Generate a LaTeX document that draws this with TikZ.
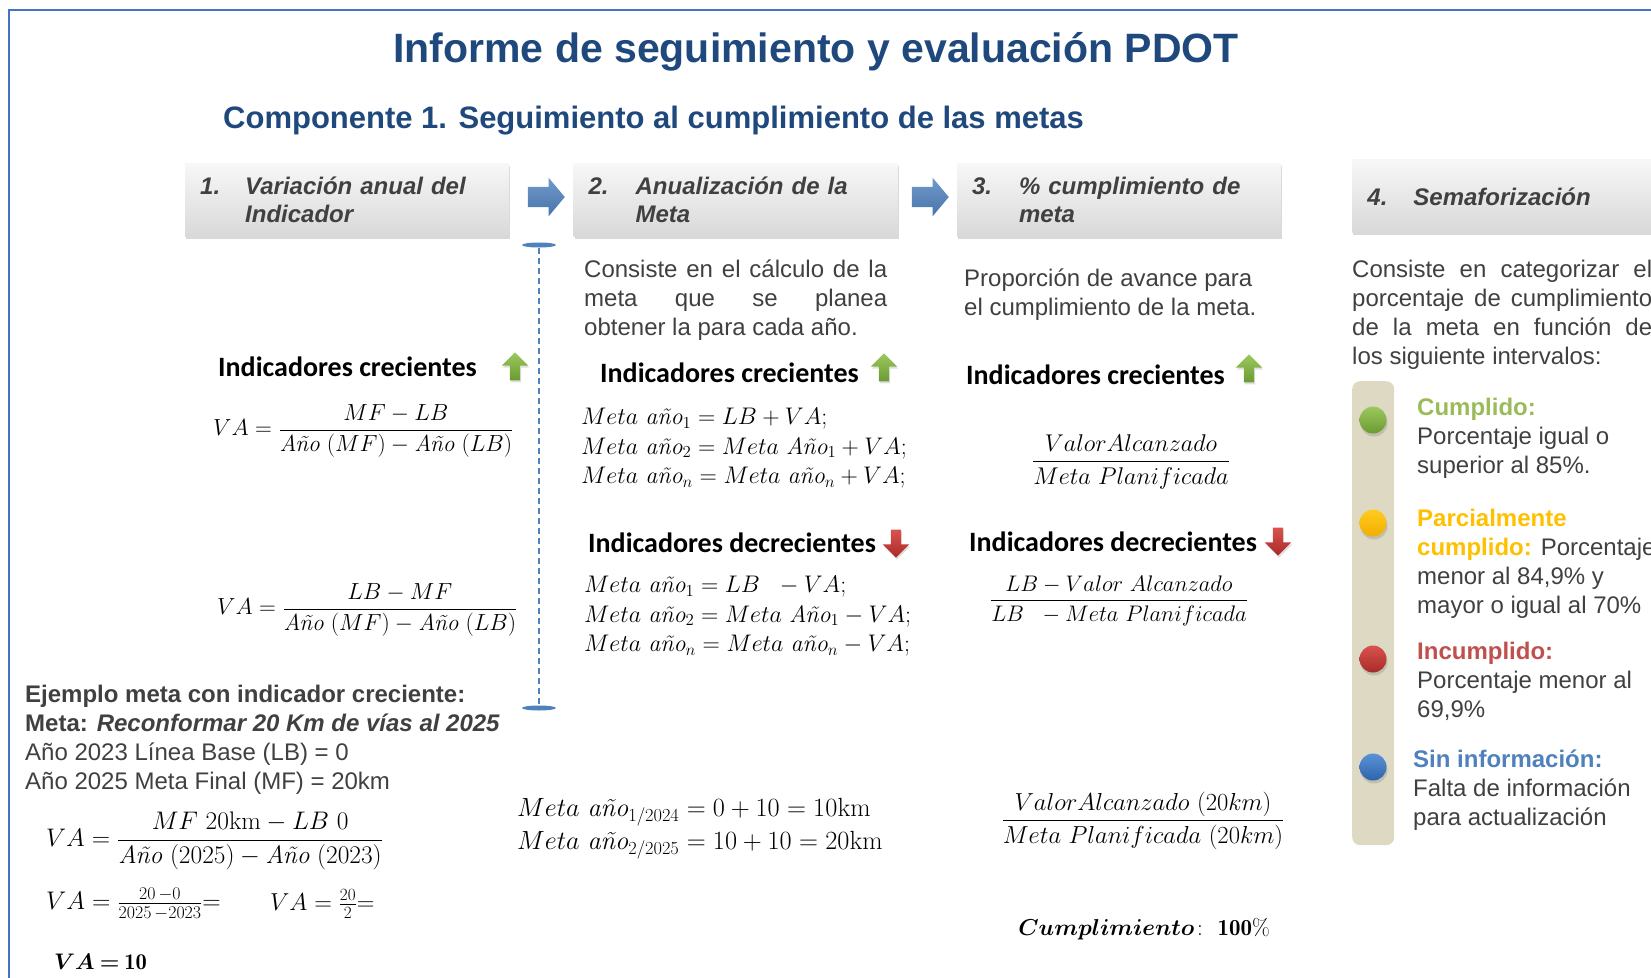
\RequirePackage{fix-cm}
\documentclass[tikz,border=0pt]{standalone}
\usepackage{amsmath,amssymb}
\usepackage{fontspec}
\setsansfont{Liberation Sans}
\newfontfamily\calib{Carlito}
\usepackage{tikz}
\usetikzlibrary{positioning,shapes.geometric,shapes.arrows,shadows}

\definecolor{titleBlue}{HTML}{1F497D}
\definecolor{frameBlue}{HTML}{4472C4}
\definecolor{textGray}{HTML}{404040}
\definecolor{arrowBlue}{HTML}{4F81BD}
\definecolor{okGreen}{HTML}{9BBB59}
\definecolor{midYellow}{HTML}{FFC000}
\definecolor{badRed}{HTML}{C0504D}
\definecolor{barTan}{HTML}{DDD9C3}
\definecolor{greenTop}{HTML}{9CC95E}
\definecolor{greenBot}{HTML}{6B9A32}
\definecolor{redTop}{HTML}{D9534F}
\definecolor{redBot}{HTML}{A82B27}
\definecolor{yellowTop}{HTML}{FFCB20}
\definecolor{yellowBot}{HTML}{F2AE00}
\definecolor{blueTop}{HTML}{5A92D8}
\definecolor{blueBot}{HTML}{2F64AA}

\newcommand{\mi}[1]{\textnormal{\itshape #1}}
\newcommand{\bodyfont}{\sffamily\fontsize{24}{29}\selectfont}
% header text: number column + wrapped title, pushed slightly down
\newcommand{\hdrtext}[4][1.5pt]{\raisebox{-#1}[\dimexpr\height+#1\relax][\dimexpr\depth-#1\relax]{\begin{tabular}{@{}p{#2}@{}p{225pt}@{}}#3 & #4\end{tabular}}}

\begin{document}
\begin{tikzpicture}[x=1pt, y=-1pt,
    hdrbox/.style={anchor=north west, minimum height=73pt, text width=294pt, inner xsep=15pt, align=left,
      top color=gray!6, bottom color=gray!30, draw=none,
      drop shadow={shadow xshift=1pt, shadow yshift=-3pt, opacity=0.25, fill=black!60},
      font=\sffamily\bfseries\itshape\fontsize{24}{28.5}\selectfont, text=textGray},
    rarrow/.style={single arrow, minimum height=37pt, inner sep=10pt, single arrow head extend=9pt,
      single arrow tip angle=100, top color=arrowBlue!80, bottom color=arrowBlue!90!black, draw=none},
    uparr/.style={single arrow, shape border rotate=90, minimum height=28pt, inner sep=5pt,
      single arrow head extend=8pt, top color=greenTop, bottom color=greenBot, draw=none,
      drop shadow={shadow xshift=1pt, shadow yshift=-2pt, opacity=0.25}},
    downarr/.style={uparr, shape border rotate=270, top color=redTop, bottom color=redBot},
    capnode/.style={ellipse, fill=arrowBlue, minimum width=34pt, minimum height=5pt, inner sep=0pt},
    vdash/.style={draw=arrowBlue, line width=1.2pt, dash pattern=on 6pt off 4pt},
    body/.style={font=\bodyfont, text=textGray, inner sep=0pt, anchor=north west, align=left},
    indlabel/.style={font=\calib\bfseries\fontsize{28}{32}\selectfont, text=black, inner sep=0pt, anchor=west},
    mathnode/.style={font=\fontsize{24}{29.5}\selectfont, text=black, inner sep=0pt},
    mathsize/.style={font=\fontsize{#1}{29.5}\selectfont},
    dot/.style={circle, minimum size=27pt, inner sep=0pt,
      drop shadow={shadow xshift=1pt, shadow yshift=-3pt, opacity=0.3}}
]
\useasboundingbox (0,0) rectangle (1651,977);
\clip (0,0) rectangle (1651,977);
% frame
\draw[frameBlue, line width=2pt] (9,1000) |- (1700,10);

% titles
\node[font=\sffamily\bfseries\fontsize{41}{48}\selectfont, text=titleBlue] (title) at (816,52) {Informe de seguimiento y evaluación PDOT};
\node[font=\sffamily\bfseries\fontsize{31}{36}\selectfont, text=titleBlue, anchor=west, inner sep=0pt] (subtitle) at (223,121) {Componente 1. Seguimiento al cumplimiento de las metas};

% header steps
\node[hdrbox] (h1) at (185,163) {\hdrtext{45pt}{1.}{Variación anual del Indicador}};
\node[hdrbox, right=64pt of h1] (h2) {\hdrtext{47pt}{2.}{Anualización de la Meta}};
\node[hdrbox, right=59pt of h2] (h3) {\hdrtext{47pt}{3.}{\% cumplimiento de meta}};
\node[hdrbox, right=71pt of h3, yshift=4pt] (h4) {\hdrtext[2.2pt]{46pt}{4.}{Semaforización}};
\node[rarrow] (a12) at (542,197) {};
\node[rarrow] (a23) at (926,197) {};

% dashed divider
\node[capnode] (capTop) at (539,245) {};
\node[capnode] (capBot) at (539,708) {};
\draw[vdash] (capTop) -- (capBot);

% column 1
\node[indlabel] (inc1) at (218,367) {Indicadores crecientes};
\node[uparr] (up1) at (515,369) {};
\node[mathnode, mathsize=23.3, anchor=west] (va1) at (213,431) {$VA = \dfrac{MF - LB}{\mi{Año}\ (MF) - \mi{Año}\ (LB)}$};
\node[mathnode, mathsize=23.3, anchor=west] (va2) at (217,610) {$VA = \dfrac{LB - MF}{\mi{Año}\ (MF) - \mi{Año}\ (LB)}$};

% column 2
\node[body, text width=303pt, align=justify] (d2) at (584,260) {Consiste en el cálculo de la\linebreak meta que se planea\linebreak obtener la para cada año.};
\node[indlabel] (inc2) at (600,373) {Indicadores crecientes};
\node[uparr] (up2) at (884,370) {};
\node[mathnode, anchor=north west, align=left] (eqinc) at (581,408) {$Meta\ \mi{año}_1 = LB + VA;$\\ $Meta\ \mi{año}_2 = Meta\ \mi{Año}_1 + VA;$\\ $Meta\ \mi{año}_n = Meta\ \mi{año}_n + VA;$};
\node[indlabel] (dec2) at (588,543) {Indicadores decrecientes};
\node[downarr] (dn2) at (896,541) {};
\node[mathnode, anchor=north west, align=left] (eqdec) at (584,576) {$Meta\ \mi{año}_1 = LB\ \ - VA;$\\ $Meta\ \mi{año}_2 = Meta\ \mi{Año}_1 - VA;$\\ $Meta\ \mi{año}_n = Meta\ \mi{año}_n - VA;$};

% column 3
\node[body] (d3) at (964,269) {Proporción de avance para\\ el cumplimiento de la meta.};
\node[indlabel] (inc3) at (966,375) {Indicadores crecientes};
\node[uparr] (up3) at (1249,371) {};
\node[mathnode, mathsize=24.2] (pc1) at (1131,462) {$\dfrac{ValorAlcanzado}{Meta\ Planificada}$};
\node[indlabel] (dec3) at (969,542) {Indicadores decrecientes};
\node[downarr] (dn3) at (1278,539) {};
\node[mathnode, mathsize=22.5] (pc2) at (1119,601) {$\dfrac{LB - Valor\ Alcanzado}{LB\ \ - Meta\ Planificada}$};

% column 4
\node[body, text width=300pt, align=justify] (d4) at (1352,260) {Consiste en categorizar el\linebreak porcentaje de cumplimiento\linebreak de la meta en función de\linebreak los siguiente intervalos:};
\node[draw=none, fill=barTan, rounded corners=8pt, minimum width=42pt, minimum height=464pt, anchor=north west] (bar) at (1352,381) {};
\node[dot, top color=greenTop, bottom color=greenBot] (dot1) at (1373,420) {};
\node[dot, top color=yellowTop, bottom color=yellowBot] (dot2) at (1373,523) {};
\node[dot, top color=redTop, bottom color=redBot] (dot3) at (1373,659) {};
\node[dot, top color=blueTop, bottom color=blueBot] (dot4) at (1373,767) {};
\node[body] (s1) at (1417,398) {\textcolor{okGreen}{\bfseries Cumplido:}\\ Porcentaje igual o\\ superior al 85\%.};
\node[body] (s2) at (1417,509) {\textcolor{midYellow}{\bfseries Parcialmente}\\ \textcolor{midYellow}{\bfseries cumplido:} Porcentaje\\ menor al 84,9\% y\\ mayor o igual al 70\%};
\node[body] (s3) at (1417,642) {\textcolor{badRed}{\bfseries Incumplido:}\\ Porcentaje menor al\\ 69,9\%};
\node[body] (s4) at (1413,750) {\textcolor{arrowBlue}{\bfseries Sin información:}\\ Falta de información\\ para actualización};

% worked example
\node[body] (ex) at (25,685) {\textbf{Ejemplo meta con indicador creciente:}\\ \textbf{Meta: \textit{Reconformar 20 Km de vías al 2025}}\\ Año 2023 Línea Base (LB) = 0\\ Año 2025 Meta Final (MF) = 20km};
\node[mathnode, mathsize=25.4, anchor=west] (va3) at (46,841) {$VA = \dfrac{MF\ 20\mathrm{km} - LB\ 0}{\mi{Año}\ (2025) - \mi{Año}\ (2023)}$};
\node[mathnode, mathsize=25.5, anchor=west] (va4) at (46,904) {$VA = \frac{20\,{-}0}{2025\,{-}2023}{=}$};
\node[mathnode, mathsize=24.5, anchor=west] (va5) at (270,904) {$VA = \frac{20}{2}{=}$};
\node[mathnode, mathsize=22.5, anchor=west] (va6) at (54,962) {$\boldsymbol{VA} \mathbin{\boldsymbol{=}} \mathbf{10}$};
\node[mathnode, mathsize=26.3, anchor=west] (ex1) at (517,812) {$Meta\ \mi{año}_{1/2024} = 0 + 10 = 10\mathrm{km}$};
\node[mathnode, mathsize=26.3, anchor=west] (ex2) at (517,845) {$Meta\ \mi{año}_{2/2025} = 10 + 10 = 20\mathrm{km}$};
\node[mathnode, mathsize=24.6] (pc3) at (1143,821) {$\dfrac{ValorAlcanzado\ (20km)}{Meta\ Planificada\ (20km)}$};
\node[mathnode, mathsize=23] (res) at (1144,929) {$\boldsymbol{Cumplimiento}\colon\ \mathbf{100\%}$};
\end{tikzpicture}
\end{document}
